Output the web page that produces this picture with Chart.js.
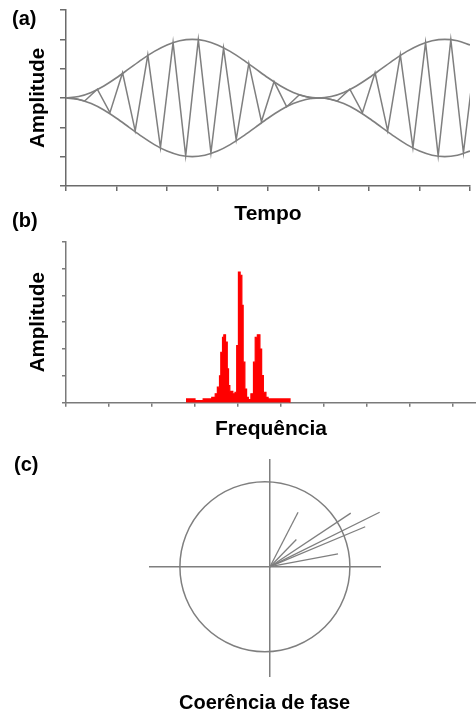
<!DOCTYPE html>
<html><head><meta charset="utf-8">
<script src="https://cdn.jsdelivr.net/npm/chart.js@4/dist/chart.umd.min.js"></script>
<style>
html,body{margin:0;padding:0;background:#fff;}
body{width:476px;height:715px;position:relative;overflow:hidden;font-family:"Liberation Sans",Arial,sans-serif;}
canvas{position:absolute;left:0;}
.lbl{position:absolute;font-weight:bold;font-size:20px;line-height:20px;color:#000;white-space:nowrap;}
</style></head><body>
<canvas id="ca" width="476" height="232" style="top:0px"></canvas>
<canvas id="cb" width="476" height="215" style="top:232px"></canvas>
<canvas id="cc" width="476" height="268" style="top:447px"></canvas>
<div class="lbl" style="left:12px;top:8px">(a)</div>
<div class="lbl" style="left:12px;top:210px">(b)</div>
<div class="lbl" style="left:14px;top:454px">(c)</div>
<script>
// ---- Panel (a): beat signal ----
const envelopeTime  = [0,0.25,0.5,0.75,1,1.25,1.5,1.75,2,2.25,2.5,2.75,3,3.25,3.5,3.75,4,4.25,4.5,4.75,5,5.25,5.5,5.75,6,6.25,6.5,6.75,7,7.25,7.5,7.75,8];
const envelopeUpper = [0,0.05,0.19,0.41,0.69,1.0,1.31,1.59,1.81,1.95,2.0,1.95,1.81,1.59,1.31,1.0,0.69,0.41,0.19,0.05,0,0.05,0.19,0.41,0.69,1.0,1.31,1.59,1.81,1.95,2.0,1.95,1.81];
const envelopeLower = [0,-0.05,-0.19,-0.41,-0.69,-1.0,-1.31,-1.59,-1.81,-1.95,-2.0,-1.95,-1.81,-1.59,-1.31,-1.0,-0.69,-0.41,-0.19,-0.05,0,-0.05,-0.19,-0.41,-0.69,-1.0,-1.31,-1.59,-1.81,-1.95,-2.0,-1.95,-1.81];
const carrierTime = [0,0.12,0.37,0.62,0.87,1.12,1.37,1.62,1.87,2.12,2.37,2.62,2.87,3.12,3.37,3.62,3.87,4.12,4.37,4.62,4.87,5.12,5.37,5.62,5.87,6.12,6.37,6.62,6.87,7.12,7.37,7.62,7.87,8.12];
const carrierAmp  = [0,0.01,-0.1,0.3,-0.5,0.86,-1.12,1.47,-1.69,1.89,-1.97,1.99,-1.87,1.70,-1.42,1.18,-0.8,0.56,-0.3,0.11,-0.02,0.01,-0.1,0.3,-0.5,0.86,-1.12,1.47,-1.69,1.89,-1.97,1.99,-1.87,1.70];

// ---- Panel (b): spectrum ----
const freqBins    = [2.79,3.00,3.19,3.39,3.47,3.52,3.57,3.60,3.64,3.67,3.71,3.75,3.78,3.81,3.88,3.93,3.97,4.01,4.05,4.09,4.12,4.16,4.20,4.24,4.30,4.36,4.40,4.45,4.51,4.55,4.59,4.65,4.70,5.21];
const spectrumAmp = [0.14,0.08,0.14,0.20,0.33,0.58,1.00,1.88,2.44,2.53,2.26,1.26,0.64,0.42,0.33,0.39,2.13,4.87,4.75,3.63,1.51,0.51,0.20,0.12,0.33,1.51,2.44,2.53,2.00,1.01,0.39,0.20,0.14,0];

// ---- Panel (c): phase vectors (unit circle radius = 1) ----
const phaseX = [0.33,0.31,0.95,1.29,1.12,0.80];
const phaseY = [0.64,0.32,0.63,0.64,0.47,0.15];
const circleCenter = [{x:-0.06, y:0}];

const FONT = "'Liberation Sans', Arial, sans-serif";
const LINE = '#7f7f7f';
const AXIS = '#6b6b6b';
const CIRCLE_RADIUS_PX = 85;
const common = {
  responsive:false, animation:false, events:[],
  plugins:{legend:{display:false}, tooltip:{enabled:false}, title:{display:false}}
};
function xy(xs, ys){ return xs.map((v,i)=>({x:v, y:ys[i]})); }

new Chart(document.getElementById('ca'), {
  type:'scatter',
  data:{datasets:[
    {data:xy(envelopeTime, envelopeUpper), showLine:true, borderColor:LINE, borderWidth:1.6, pointRadius:0, cubicInterpolationMode:'monotone'},
    {data:xy(envelopeTime, envelopeLower), showLine:true, borderColor:LINE, borderWidth:1.6, pointRadius:0, cubicInterpolationMode:'monotone'},
    {data:xy(carrierTime, carrierAmp), showLine:true, borderColor:LINE, borderWidth:1.5, pointRadius:0, tension:0}
  ]},
  options:Object.assign({}, common, {
    layout:{autoPadding:false, padding:{top:10,right:6,left:0,bottom:0}},
    scales:{
      x:{type:'linear', min:0, max:8, bounds:'data',
         ticks:{display:false, stepSize:1, includeBounds:false},
         grid:{display:true, drawOnChartArea:false, drawTicks:true, tickLength:5, color:AXIS, lineWidth:1.5},
         border:{display:true, color:AXIS, width:1.5},
         title:{display:true, text:'Tempo', color:'#000', font:{family:FONT, size:21, weight:'bold'}, padding:{top:0,bottom:5}},
         afterFit:s=>{s.height=46;}},
      y:{type:'linear', min:-3, max:3, bounds:'data',
         ticks:{display:false, stepSize:1, includeBounds:false},
         grid:{display:true, drawOnChartArea:false, drawTicks:true, tickLength:6, color:AXIS, lineWidth:1.5},
         border:{display:true, color:AXIS, width:1.5},
         title:{display:true, text:'Amplitude', color:'#000', font:{family:FONT, size:20.5, weight:'bold'}, padding:{top:26,bottom:0}},
         afterFit:s=>{s.width=66;}}
    }
  })
});

new Chart(document.getElementById('cb'), {
  type:'scatter',
  data:{datasets:[
    {data:xy(freqBins, spectrumAmp), showLine:true, stepped:'before', fill:'origin', backgroundColor:'#ff0000', borderColor:'#ff0000', borderWidth:1.2, pointRadius:0}
  ]},
  options:Object.assign({}, common, {
    layout:{autoPadding:false, padding:{top:9.7,right:0,left:0,bottom:0}},
    scales:{
      x:{type:'linear', min:0, max:9.535, bounds:'data',
         ticks:{display:false, stepSize:1, includeBounds:false},
         afterBuildTicks:s=>{s.ticks=s.ticks.filter(t=>Number.isInteger(t.value));},
         grid:{display:true, drawOnChartArea:false, drawTicks:true, tickLength:4, color:'#7a7a7a', lineWidth:1.5},
         border:{display:true, color:'#7a7a7a', width:1.5},
         title:{display:true, text:'Frequência', color:'#000', font:{family:FONT, size:21, weight:'bold'}, padding:{top:0,bottom:5}},
         afterFit:s=>{s.height=44.3;}},
      y:{type:'linear', min:0, max:6, bounds:'data',
         ticks:{display:false, stepSize:1, includeBounds:false},
         grid:{display:true, drawOnChartArea:false, drawTicks:true, tickLength:4, color:'#7a7a7a', lineWidth:1.5},
         border:{display:true, color:'#7a7a7a', width:1.5},
         title:{display:true, text:'Amplitude', color:'#000', font:{family:FONT, size:20.5, weight:'bold'}, padding:{top:26,bottom:0}},
         afterFit:s=>{s.width=66;}}
    }
  })
});

const vectorSets = phaseX.map((vx,i)=>({type:'line', data:[{x:0,y:0},{x:vx,y:phaseY[i]}], borderColor:LINE, borderWidth:1.3, pointRadius:0, fill:false}));
new Chart(document.getElementById('cc'), {
  type:'bubble',
  data:{datasets:[
    {type:'bubble', data:circleCenter, backgroundColor:'rgba(0,0,0,0)', borderColor:LINE, borderWidth:1.5,
     radius:CIRCLE_RADIUS_PX, hoverRadius:0, clip:false}
  ].concat(vectorSets)},
  options:Object.assign({}, common, {
    layout:{autoPadding:false, padding:{top:13,right:96,left:149.3,bottom:0}},
    plugins:{legend:{display:false}, tooltip:{enabled:false},
      title:{display:true, position:'bottom', text:'Coerência de fase', color:'#000', font:{family:FONT, size:20, weight:'bold'}, padding:{top:14.3,bottom:0}}},
    scales:{
      x:{type:'linear', min:-1.42, max:1.294, position:{y:0},
         ticks:{display:false}, grid:{display:false}, border:{display:true, color:LINE, width:1.5}},
      y:{type:'linear', min:-1.294, max:1.255, position:{x:0},
         ticks:{display:false}, grid:{display:false}, border:{display:true, color:LINE, width:1.5}}
    }
  })
});
</script>
</body></html>
